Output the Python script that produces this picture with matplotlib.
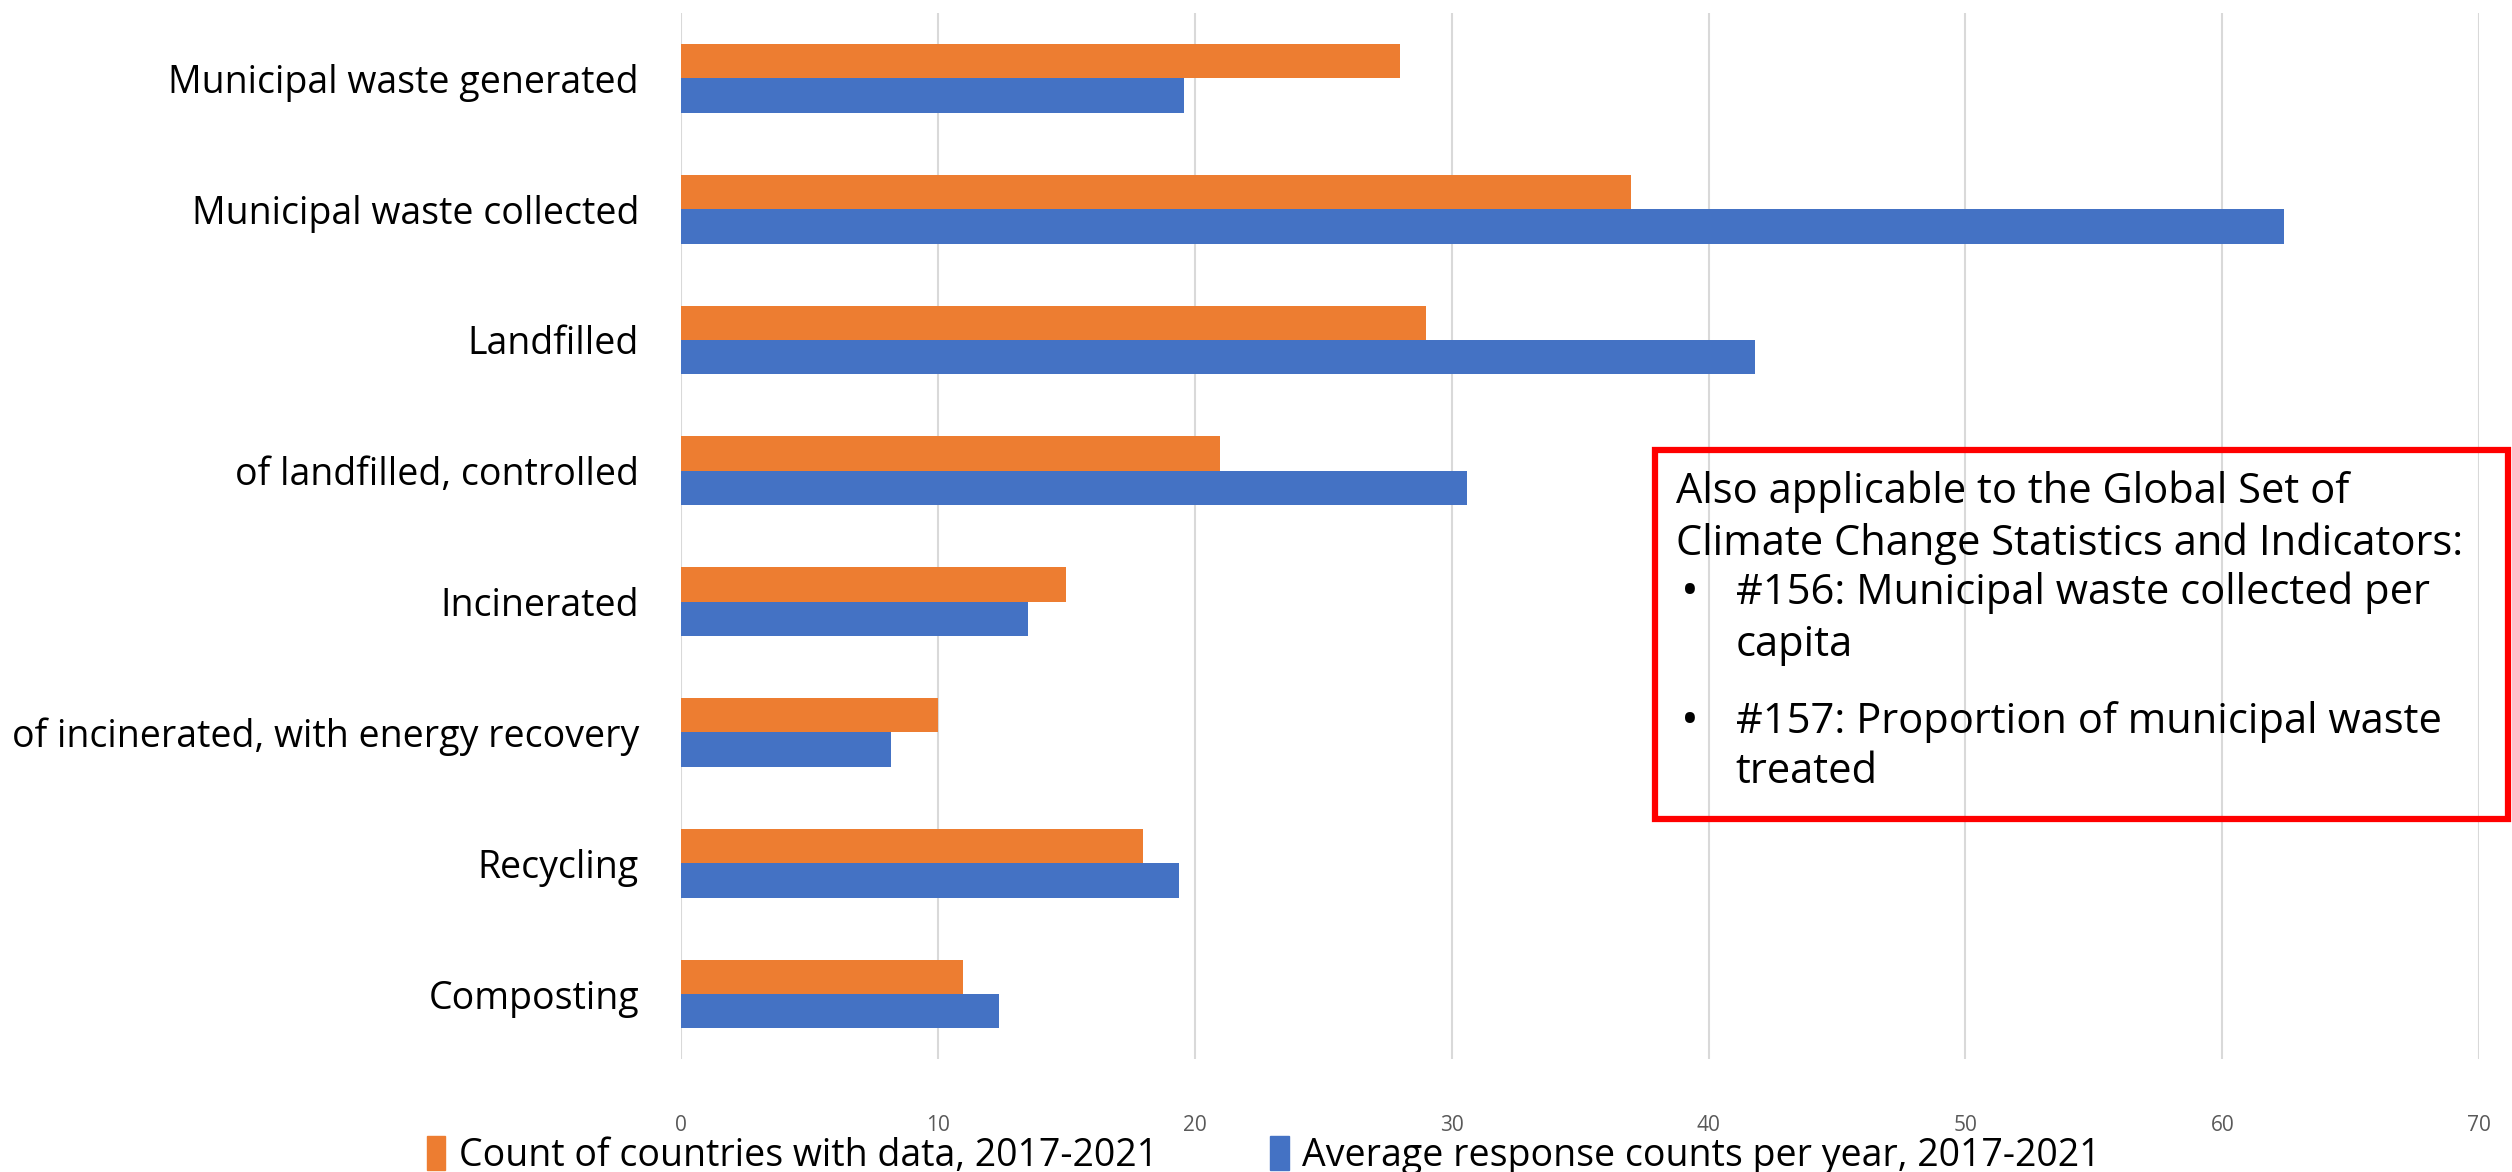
import matplotlib
matplotlib.use("Agg")
import matplotlib.pyplot as plt
import numpy as np
from matplotlib.patches import Rectangle, Patch

plt.rcParams['font.family'] = ['Open Sans', 'DejaVu Sans']

categories = ["Municipal waste generated", "Municipal waste collected", "Landfilled",
              "of landfilled, controlled", "Incinerated",
              "of incinerated, with energy recovery", "Recycling", "Composting"]
count_countries = [28, 37, 29, 21, 15, 10, 18, 11]
avg_responses = [19.6, 62.4, 41.8, 30.6, 13.5, 8.2, 19.4, 12.4]
x_ticks = [0, 10, 20, 30, 40, 50, 60, 70]

label_orange = "Count of countries with data, 2017-2021"
label_blue = "Average response counts per year, 2017-2021"

box_lines = [
    ("Also applicable to the Global Set of", False, 0.580),
    ("Climate Change Statistics and Indicators:", False, 0.536),
    ("#156: Municipal waste collected per", True, 0.494),
    ("capita", None, 0.450),
    ("#157: Proportion of municipal waste", True, 0.384),
    ("treated", None, 0.341),
]

orange = "#ED7D31"
blue = "#4472C4"

fig = plt.figure(figsize=(25.12, 11.72), dpi=100)
ax = fig.add_axes([0.271, 0.096, 0.716, 0.893])

y = np.arange(len(categories))
h = 0.263
ax.barh(y - h / 2, count_countries, height=h, color=orange)
ax.barh(y + h / 2, avg_responses, height=h, color=blue)

ax.set_ylim(len(categories) - 0.5, -0.5)
ax.set_xlim(0, 70)
ax.set_xticks(x_ticks)
ax.set_yticks(y)
ax.set_yticklabels(categories, fontsize=27)
ax.tick_params(axis='y', length=0, pad=30)
ax.tick_params(axis='x', length=0, pad=40, labelsize=15, labelcolor="#595959")
ax.grid(axis='x', color="#d9d9d9", linewidth=1.5)
ax.set_axisbelow(True)
for s in ax.spines.values():
    s.set_visible(False)

fig.legend(handles=[Patch(color=orange, label=label_orange),
                    Patch(color=blue, label=label_blue)],
           loc='center', bbox_to_anchor=(0.503, 0.014), ncol=2, frameon=False,
           fontsize=27, handlelength=0.5, handleheight=1.0, handletextpad=0.35,
           columnspacing=3.0)

fig.patches.append(Rectangle((0.659, 0.301), 0.3395, 0.315, transform=fig.transFigure,
                             fill=False, edgecolor="#FF0000", linewidth=4.5))
for txt, bullet, yy in box_lines:
    if bullet is False:
        fig.text(0.667, yy, txt, fontsize=30, va='center', ha='left')
    else:
        if bullet:
            fig.text(0.669, yy, "\u2022", fontsize=34, va='center', ha='left')
        fig.text(0.691, yy, txt, fontsize=30, va='center', ha='left')

fig.savefig("out.png", dpi=100)
